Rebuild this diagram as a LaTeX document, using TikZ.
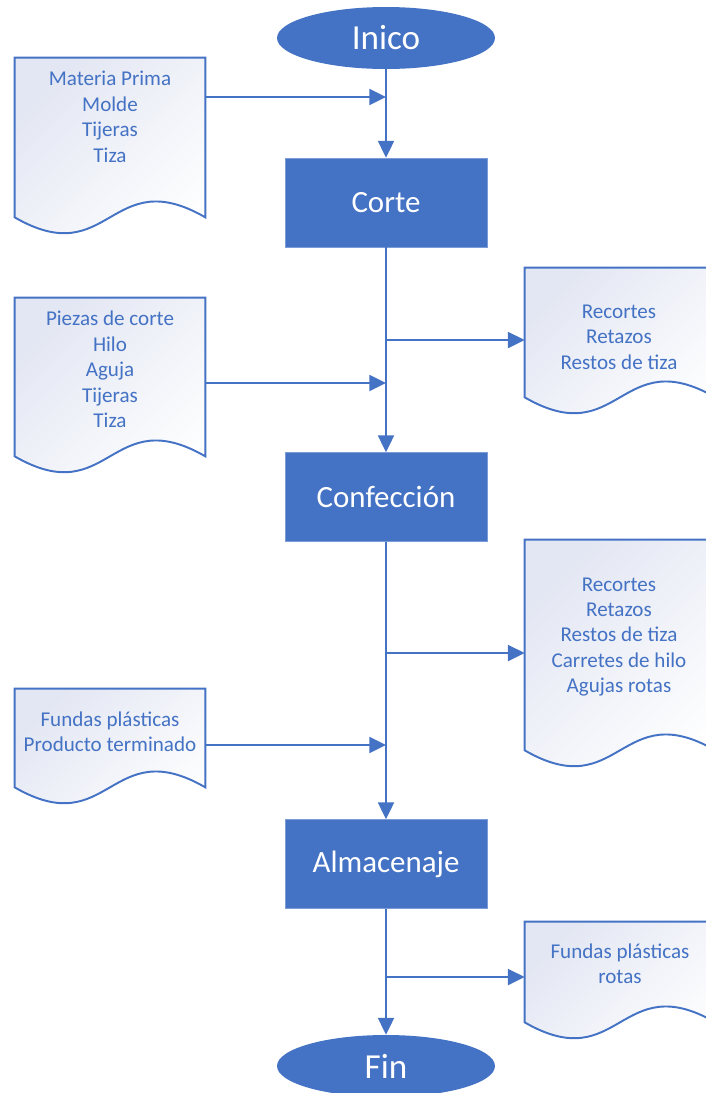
\documentclass[tikz,border=0pt]{standalone}
\usepackage{fontspec}
\setmainfont{Carlito}
\usepackage{xcolor}
\usepackage{tikz}
\usetikzlibrary{calc,arrows.meta,positioning,shapes.geometric}
\definecolor{bluex}{HTML}{4472C4}
\definecolor{docbg}{HTML}{E3E7F3}
\tikzset{
  ar/.style={-{Triangle[length=9.5pt,width=9pt]},line width=1.4pt,bluex},
  stepbox/.style={rectangle,fill=bluex,draw=bluex!70!white,line width=0.4pt,text=white,
    minimum width=4.04cm,minimum height=1.78cm,font=\fontsize{17.6}{20}\selectfont},
  term/.style={ellipse,fill=bluex,text=white,inner sep=0pt,
    minimum width=4.36cm,minimum height=1.24cm,font=\fontsize{20}{24}\selectfont},
  docframe/.style={rectangle,inner sep=0pt,minimum width=3.8cm},
  docfill/.style={draw=bluex,line width=1.1pt,top color=docbg,bottom color=white,shading angle=45},
  doctext/.style={align=center,text=bluex,font=\fontsize{12}{14.5}\selectfont}
}
% document outline round a docframe node
\newcommand{\wavedoc}[1]{%
  \shadedraw[docfill] (#1.north west) -- (#1.north east) -- (#1.south east)
    .. controls ($(#1.south)+(0,-55)$) and ($(#1.south)+(0,55)$) .. (#1.south west) -- cycle;}
\begin{document}
\begin{tikzpicture}[x=0.02cm,y=-0.02cm]
\useasboundingbox (0,0) rectangle (706,1093);
\clip (0,0) rectangle (706,1093);

% main chain
\node[term] (ini) at (386,38) {Inico};
\node[stepbox] (cor) at (386,202.5) {Corte};
\node[stepbox] (con) at (386,497) {Confección};
\node[stepbox] (alm) at (386,864) {Almacenaje};
\node[term] (fin) at (386,1066) {Fin};

% inputs / outputs
\node[docframe,minimum height=3.18cm] (mp) at (110,137.5) {};
\wavedoc{mp}
\node[doctext] (mp-t) at (110,117) {Materia Prima\\Molde\\Tijeras\\Tiza};

\node[docframe,minimum height=3.16cm] (pc) at (110,377) {};
\wavedoc{pc}
\node[doctext] (pc-t) at (110,369.5) {Piezas de corte\\Hilo\\Aguja\\Tijeras\\Tiza};

\node[docframe,minimum height=2.58cm] (rc) at (620,332.5) {};
\wavedoc{rc}
\node[doctext] (rc-t) at (619,337) {Recortes\\Retazos\\Restos de tiza};

\node[docframe,minimum height=4.2cm] (rh) at (620,645) {};
\wavedoc{rh}
\node[doctext] (rh-t) at (619,637) {Recortes\\Retazos\\Restos de tiza\\Carretes de hilo\\Agujas rotas};

\node[docframe,minimum height=1.96cm] (fp) at (110,738) {};
\wavedoc{fp}
\node[doctext] (fp-t) at (110,732) {Fundas plásticas\\Producto terminado};

\node[docframe,minimum height=2cm] (fr) at (620,972) {};
\wavedoc{fr}
\node[doctext] (fr-t) at (620,964) {Fundas plásticas\\rotas};

% joints on the main line
\coordinate (j1) at (386,97);
\coordinate (j2) at (386,340);
\coordinate (j3) at (386,383);
\coordinate (j4) at (386,653);
\coordinate (j5) at (386,745);
\coordinate (j6) at (386,977);

\draw[ar] (ini) -- (cor);
\draw[ar] (cor) -- (con);
\draw[ar] (con) -- (alm);
\draw[ar] (alm) -- (fin);

\draw[ar] (mp.east |- j1) -- (j1);
\draw[ar] (pc.east |- j3) -- (j3);
\draw[ar] (fp.east |- j5) -- (j5);
\draw[ar] (j2) -- (rc.west |- j2);
\draw[ar] (j4) -- (rh.west |- j4);
\draw[ar] (j6) -- (fr.west |- j6);
\end{tikzpicture}
\end{document}
